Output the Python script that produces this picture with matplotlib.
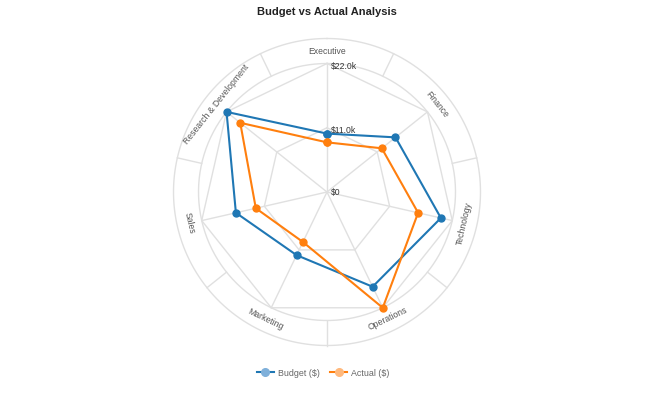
import numpy as np
import matplotlib
matplotlib.use("Agg")
import matplotlib.pyplot as plt
from matplotlib.lines import Line2D

plt.rcParams['font.family'] = ['Liberation Sans', 'DejaVu Sans']

categories = ["Executive", "Finance", "Technology", "Operations", "Marketing", "Sales",
              "Research & Development"]
budget = [10000, 15000, 20000, 18000, 12000, 16000, 22000]
actual = [8500, 12000, 16000, 22000, 9500, 12500, 19000]
tick_values = [0, 11000, 22000]
tick_labels = ["$0", "$11.0k", "$22.0k"]
series_names = ["Budget ($)", "Actual ($)"]
colors = ["#1f77b4", "#ff7f0e"]

W, H = 650, 393
fig = plt.figure(figsize=(W / 100, H / 100), dpi=100)

cx, cy = 327, 192
px_per_val = 128.5 / 22000
ax_r_px = 158
rmax = ax_r_px / px_per_val
r_grid = 22000
r_outer = 153.5 / px_per_val
r_label = (r_grid + r_outer) / 2

ax = fig.add_axes([(cx - ax_r_px) / W, (H - cy - ax_r_px) / H, 2 * ax_r_px / W, 2 * ax_r_px / H],
                  projection='polar')
ax.set_theta_zero_location('N')
ax.set_theta_direction(-1)
ax.set_ylim(0, rmax)
ax.set_axis_off()

n = len(categories)
theta = np.arange(n) * 2 * np.pi / n
grid_c = "#e0e0e0"

# circles
tt = np.linspace(0, 2 * np.pi, 400)
for rr in (r_grid, r_outer):
    ax.plot(tt, np.full_like(tt, rr), color=grid_c, lw=1, zorder=1, clip_on=False)
# polygons
for v in tick_values[1:]:
    ax.plot(np.append(theta, theta[0]), np.full(n + 1, v), color=grid_c, lw=1, zorder=1)
# spokes
for t in theta:
    ax.plot([t, t], [0, r_grid], color=grid_c, lw=1, zorder=1)
# dividers in label band
for t in theta + np.pi / n:
    ax.plot([t, t], [r_grid, r_outer], color=grid_c, lw=1, zorder=1, clip_on=False)

# category labels
for t, lab in zip(theta, categories):
    rot = -np.degrees(t)
    rot = (rot + 180) % 360 - 180
    if rot < -90:
        rot += 180
    elif rot > 90:
        rot -= 180
    ax.text(t, r_label, lab, rotation=rot, rotation_mode='anchor', ha='center', va='center',
            fontsize=6.2, color='#555555', zorder=3)

# tick labels
for v, lab in zip(tick_values, tick_labels):
    ax.annotate(lab, xy=(0, v), xytext=(2.5, -2 if v > 0 else 0), textcoords='offset points',
                ha='left', va='center', fontsize=6.2, color='#333333', zorder=4)

# series
for vals, col in zip([budget, actual], colors):
    ax.plot(np.append(theta, theta[0]), np.append(vals, vals[0]), color=col, lw=1.5,
            marker='o', markersize=5, zorder=5, clip_on=False)

fig.text(327 / W, 1 - 12 / H, "Budget vs Actual Analysis", ha='center', va='center',
         fontsize=8, fontweight='bold', color='#222222')

handles = [Line2D([], [], color=c, lw=1.5, marker='o', markersize=5.5,
                  markerfacecolor=c, markeredgecolor=c, alpha=1) for c in colors]
for h, c in zip(handles, ["#7fb0da", "#ffb97d"]):
    h.set_markerfacecolor(c)
    h.set_markeredgecolor(c)
leg = fig.legend(handles, series_names, loc='center', bbox_to_anchor=(323 / W, 1 - 373 / H),
                 ncol=2, frameon=False, fontsize=6.4, handlelength=1.9, handletextpad=0.45,
                 columnspacing=1.2, labelcolor='#666666')

fig.savefig("out.png", dpi=100)
